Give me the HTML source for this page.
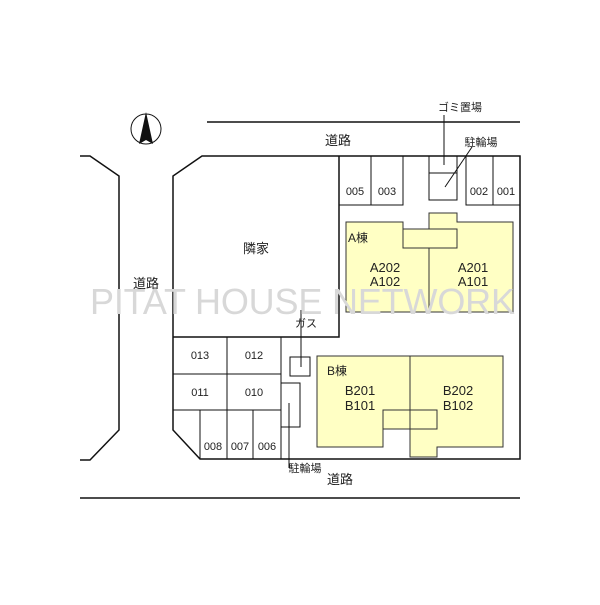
<!DOCTYPE html>
<html><head><meta charset="utf-8"><style>
html,body{margin:0;padding:0;background:#fff;}
svg text{font-family:"Liberation Sans","Noto Sans CJK JP",sans-serif;fill:#222;}
</style></head><body>
<svg width="600" height="600" viewBox="0 0 600 600" xmlns="http://www.w3.org/2000/svg">
<g stroke="#111" stroke-width="1.5" fill="none">
<line x1="207" y1="122" x2="520" y2="122"/>
<line x1="80" y1="498" x2="520" y2="498"/>
<polyline points="80,156 90,156 119,176 119,430 90,460 80,460"/>
<polygon points="202,156 520,156 520,459 200,459 173,430 173,176"/>
<polyline points="173,337 339,337 339,156"/>
</g>
<g stroke="#111" stroke-width="1" fill="none">
<rect x="339" y="156" width="32" height="49"/>
<rect x="371" y="156" width="32" height="49"/>
<rect x="429" y="156" width="28" height="44"/>
<line x1="429" y1="173" x2="457" y2="173"/>
<rect x="466" y="156" width="27" height="49"/>
<rect x="493" y="156" width="27" height="49"/>
<line x1="444" y1="115" x2="444" y2="165"/>
<line x1="472" y1="147" x2="445" y2="187"/>
<line x1="173" y1="374" x2="281" y2="374"/>
<line x1="173" y1="410" x2="281" y2="410"/>
<line x1="227" y1="337" x2="227" y2="459"/>
<line x1="281" y1="337" x2="281" y2="459"/>
<line x1="200" y1="410" x2="200" y2="459"/>
<line x1="253" y1="410" x2="253" y2="459"/>
<rect x="290" y="357" width="20" height="19"/>
<line x1="301" y1="310" x2="301" y2="367"/>
<rect x="281" y="383" width="19" height="44"/>
<line x1="289" y1="403" x2="289" y2="468"/>
</g>
<g stroke="#333" stroke-width="1" fill="#ffffc4">
<polygon points="346,222 403,222 403,229 429,229 429,213 457,213 457,222 513,222 513,312 346,312"/>
<polyline fill="none" points="403,229 429,229 457,229 457,248 403,248 403,229"/>
<line x1="429" y1="248" x2="429" y2="312"/>
<polygon points="317,356 503,356 503,447 437,447 437,457 410,457 410,429 383,429 383,447 317,447"/>
<polyline fill="none" points="410,457 410,410 383,410 383,429 437,429 437,410 410,410"/>
<line x1="410" y1="356" x2="410" y2="410"/>
</g>
<circle cx="146" cy="129" r="15" stroke="#111" stroke-width="1" fill="none"/>
<polygon points="146,112 139,144 146,140 153,144" fill="#111"/>
<text x="90" y="314" font-size="36" style="fill:#d8d8d8" textLength="425">PITAT HOUSE NETWORK</text>
<g font-size="11" text-anchor="middle">
<text x="355" y="195">005</text><text x="387" y="195">003</text>
<text x="479" y="195">002</text><text x="506" y="195">001</text>
<text x="200" y="359">013</text><text x="254" y="359">012</text>
<text x="200" y="396">011</text><text x="254" y="396">010</text>
<text x="213" y="450">008</text><text x="240" y="450">007</text><text x="267" y="450">006</text>
<text x="460" y="111">ゴミ置場</text>
<text x="481" y="146">駐輪場</text>
<text x="306" y="327">ガス</text>
<text x="305" y="472">駐輪場</text>
</g>
<g font-size="13" text-anchor="middle">
<text x="338" y="145">道路</text>
<text x="340" y="484">道路</text>
<text x="146" y="288">道路</text>
<text x="256" y="253">隣家</text>
<text x="385" y="272">A202</text><text x="385" y="286">A102</text>
<text x="473" y="272">A201</text><text x="473" y="286">A101</text>
<text x="360" y="395">B201</text><text x="360" y="410">B101</text>
<text x="458" y="395">B202</text><text x="458" y="410">B102</text>
</g>
<text x="348" y="242" font-size="12">A棟</text>
<text x="327" y="375" font-size="12">B棟</text>
</svg>
</body></html>
